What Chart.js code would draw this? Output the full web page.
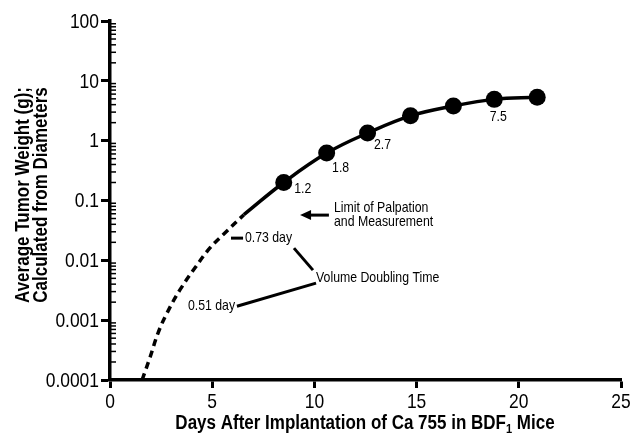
<!DOCTYPE html>
<html>
<head>
<meta charset="utf-8">
<script src="https://cdn.jsdelivr.net/npm/chart.js@4"></script>
<style>
  html, body { margin: 0; padding: 0; background: #fff; }
  #wrap { width: 633px; height: 433px; position: relative; }
</style>
</head>
<body>
<div id="wrap"><canvas id="tumorChart"></canvas></div>
<script>
// Data
const days = [8.5, 10.6, 12.6, 14.7, 16.8, 18.8, 20.9];
const weights = [0.2, 0.62, 1.34, 2.6, 3.8, 4.9, 5.3];
const doublingLabels = ['1.2', '1.8', '2.7', '', '', '7.5', ''];

// extrapolated (dashed) part below the limit of palpation
const extrapDays = [1.57, 1.96, 2.35, 2.79, 3.42, 4.16, 4.89, 5.62, 6.55];
const extrapWeights = [0.0001, 0.00024, 0.00061, 0.00132, 0.0032, 0.0075, 0.0161, 0.0286, 0.058];

// solid fitted curve: starts where the dashed one stops, then runs through the dots
const fitDays = [6.55].concat(days);
const fitWeights = [0.058].concat(weights);

const xTickValues = [0, 5, 10, 15, 20, 25];
const yTickValues = [0.0001, 0.001, 0.01, 0.1, 1, 10, 100];
const yTickLabels = ['0.0001', '0.001', '0.01', '0.1', '1', '10', '100'];

const FONT = "'Liberation Sans', Arial, sans-serif";

function toPoints(xs, ys) {
    return xs.map((x, i) => ({ x: x, y: ys[i] }));
}

// no narrow font installed, so squeeze the text horizontally
function narrowText(ctx, text, x, y, opts) {
    ctx.save();
    ctx.font = opts.font;
    ctx.textAlign = opts.align || 'left';
    ctx.textBaseline = opts.baseline || 'middle';
    ctx.translate(x, y);
    if (opts.rotate) ctx.rotate(opts.rotate);
    ctx.scale(opts.sx || 0.82, 1);
    ctx.fillText(text, 0, 0);
    ctx.restore();
}

function narrowWidth(ctx, text, font, sx) {
    ctx.save();
    ctx.font = font;
    const w = ctx.measureText(text).width * sx;
    ctx.restore();
    return w;
}

// Minor log ticks drawn inside the y axis
const minorTicks = {
    id: 'minorTicks',
    afterDraw(chart) {
        const ctx = chart.ctx;
        const y = chart.scales.y;
        const left = chart.chartArea.left;
        ctx.save();
        ctx.strokeStyle = '#000';
        ctx.lineWidth = 1.5;
        for (let k = -4; k < 2; k++) {
            for (let m = 2; m <= 9; m++) {
                const py = y.getPixelForValue(m * Math.pow(10, k));
                ctx.beginPath();
                ctx.moveTo(left, py);
                ctx.lineTo(left + 6, py);
                ctx.stroke();
            }
        }
        ctx.restore();
    }
};

// Tick labels, axis titles, doubling-time labels and the notes
const notes = {
    id: 'notes',
    afterDraw(chart) {
        const ctx = chart.ctx;
        const xs = chart.scales.x;
        const ys = chart.scales.y;
        const area = chart.chartArea;
        const P = (x, y) => [xs.getPixelForValue(x), ys.getPixelForValue(y)];
        ctx.save();
        ctx.fillStyle = '#000';
        ctx.strokeStyle = '#000';

        // tick labels
        const tickFont = '21px ' + FONT;
        yTickValues.forEach((v, i) => {
            narrowText(ctx, yTickLabels[i], area.left - 11, ys.getPixelForValue(v) + 1,
                { font: tickFont, align: 'right', sx: 0.83 });
        });
        xTickValues.forEach(v => {
            narrowText(ctx, String(v), xs.getPixelForValue(v), 402,
                { font: tickFont, align: 'center', sx: 0.83 });
        });

        // doubling time next to the dots
        const noteFont = '15px ' + FONT;
        const offs = [[19, 6], [14, 15], [15, 12], [0, 0], [0, 0], [4, 17], [0, 0]];
        days.forEach((d, i) => {
            if (!doublingLabels[i]) return;
            const p = P(d, weights[i]);
            narrowText(ctx, doublingLabels[i], p[0] + offs[i][0], p[1] + offs[i][1],
                { font: noteFont, align: 'center' });
        });

        // limit of palpation arrow
        ctx.lineWidth = 3;
        let a = P(9.3, 0.057), b = P(10.71, 0.057);
        ctx.beginPath();
        ctx.moveTo(a[0] + 8, a[1]);
        ctx.lineTo(b[0], b[1]);
        ctx.stroke();
        ctx.beginPath();
        ctx.moveTo(a[0], a[1]);
        ctx.lineTo(a[0] + 11, a[1] - 5);
        ctx.lineTo(a[0] + 11, a[1] + 5);
        ctx.closePath();
        ctx.fill();

        let t = P(10.96, 0.0746);
        narrowText(ctx, 'Limit of Palpation', t[0], t[1], { font: noteFont });
        t = P(10.96, 0.0435);
        narrowText(ctx, 'and Measurement', t[0], t[1], { font: noteFont });

        // volume doubling time
        a = P(5.92, 0.0235); b = P(6.51, 0.0235);
        ctx.beginPath(); ctx.moveTo(a[0], a[1]); ctx.lineTo(b[0], b[1]); ctx.stroke();
        t = P(6.6, 0.0235);
        narrowText(ctx, '0.73 day', t[0], t[1], { font: noteFont });

        a = P(9.0, 0.016); b = P(9.93, 0.00686);
        ctx.beginPath(); ctx.moveTo(a[0], a[1]); ctx.lineTo(b[0], b[1]); ctx.stroke();

        t = P(10.08, 0.00504);
        narrowText(ctx, 'Volume Doubling Time', t[0], t[1], { font: noteFont });

        a = P(6.21, 0.00171); b = P(10.08, 0.00416);
        ctx.beginPath(); ctx.moveTo(a[0], a[1]); ctx.lineTo(b[0], b[1]); ctx.stroke();
        t = P(6.12, 0.00171);
        narrowText(ctx, '0.51 day', t[0], t[1], { font: noteFont, align: 'right' });

        // y title, two lines
        const titleFont = 'bold 20px ' + FONT;
        narrowText(ctx, 'Average Tumor Weight (g);', 23, 195,
            { font: titleFont, align: 'center', rotate: -Math.PI / 2, sx: 0.85 });
        narrowText(ctx, 'Calculated from Diameters', 41, 195,
            { font: titleFont, align: 'center', rotate: -Math.PI / 2, sx: 0.85 });

        // x title with subscript
        const main = 'Days After Implantation of Ca 755 in BDF';
        const tail = ' Mice';
        const subFont = 'bold 13px ' + FONT;
        const w1 = narrowWidth(ctx, main, titleFont, 0.85);
        const w2 = narrowWidth(ctx, '1', subFont, 0.85);
        const w3 = narrowWidth(ctx, tail, titleFont, 0.85);
        const x0 = 365 - (w1 + w2 + w3) / 2;
        const base = 429;
        narrowText(ctx, main, x0, base, { font: titleFont, baseline: 'alphabetic', sx: 0.85 });
        narrowText(ctx, '1', x0 + w1, base + 4, { font: subFont, baseline: 'alphabetic', sx: 0.85 });
        narrowText(ctx, tail, x0 + w1 + w2, base, { font: titleFont, baseline: 'alphabetic', sx: 0.85 });
        ctx.restore();
    }
};

const ctx = document.getElementById('tumorChart').getContext('2d');
new Chart(ctx, {
    type: 'scatter',
    data: {
        datasets: [
            {
                data: toPoints(extrapDays, extrapWeights),
                showLine: true,
                borderColor: '#000',
                borderWidth: 3.5,
                borderDash: [7, 5],
                tension: 0.4,
                pointRadius: 0
            },
            {
                data: toPoints(fitDays, fitWeights),
                showLine: true,
                borderColor: '#000',
                borderWidth: 3.5,
                tension: 0.4,
                pointRadius: 0
            },
            {
                data: toPoints(days, weights),
                showLine: false,
                backgroundColor: '#000',
                borderWidth: 0,
                pointRadius: 8.5
            }
        ]
    },
    options: {
        responsive: true,
        maintainAspectRatio: false,
        animation: false,
        layout: { padding: { top: 21, right: 12, left: 0, bottom: 0 } },
        plugins: {
            legend: { display: false },
            tooltip: { enabled: false }
        },
        scales: {
            x: {
                type: 'linear',
                min: 0,
                max: 25,
                afterFit: s => { s.height = 53; },
                afterBuildTicks: s => {
                    s.ticks = xTickValues.map(v => ({ value: v }));
                },
                ticks: { display: false },
                grid: {
                    drawOnChartArea: false,
                    tickLength: 8,
                    tickWidth: 3,
                    tickColor: '#000'
                },
                border: { color: '#000', width: 3.5 }
            },
            y: {
                type: 'logarithmic',
                min: 0.0001,
                max: 100,
                afterFit: s => { s.width = 110; },
                afterBuildTicks: s => {
                    s.ticks = yTickValues.map(v => ({ value: v, major: true }));
                },
                ticks: { display: false },
                grid: {
                    drawOnChartArea: false,
                    tickLength: 9,
                    tickWidth: 3,
                    tickColor: '#000'
                },
                border: { color: '#000', width: 3.5 }
            }
        }
    },
    plugins: [minorTicks, notes]
});
</script>
</body>
</html>
